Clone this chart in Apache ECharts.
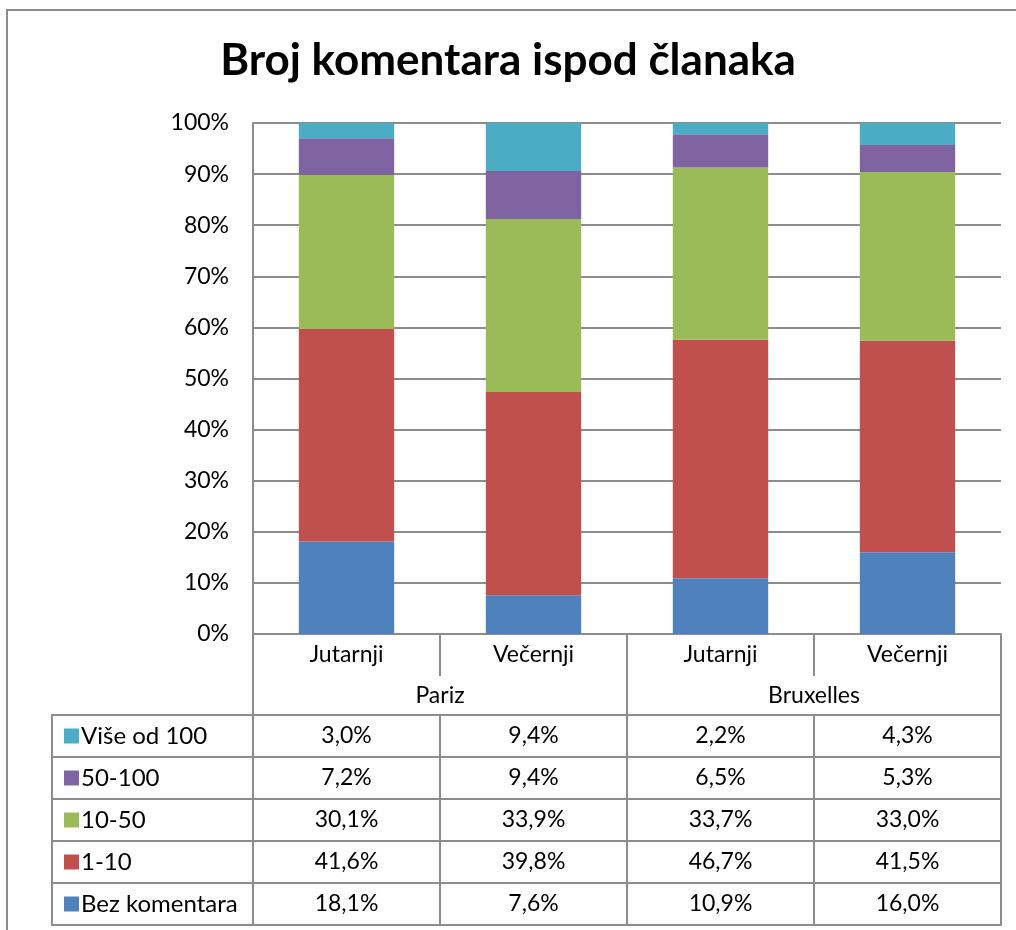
<!DOCTYPE html>
<html>
<head>
<meta charset="utf-8">
<title>Broj komentara ispod članaka</title>
<script src="https://cdn.jsdelivr.net/npm/echarts@6/dist/echarts.min.js"></script>
<style>
  html, body { margin: 0; padding: 0; background: #fff; }
  #main { width: 1016px; height: 930px; }
</style>
</head>
<body>
<div id="main"></div>
<script>
// podaci
var categories = ['Jutarnji', 'Večernji', 'Jutarnji', 'Večernji'];
var groups = ['Pariz', 'Bruxelles'];
var seriesNames = ['Bez komentara', '1-10', '10-50', '50-100', 'Više od 100'];
var bezKomentara = [18.1, 7.6, 10.9, 16.0];
var od1do10 = [41.6, 39.8, 46.7, 41.5];
var od10do50 = [30.1, 33.9, 33.7, 33.0];
var od50do100 = [7.2, 9.4, 6.5, 5.3];
var viseOd100 = [3.0, 9.4, 2.2, 4.3];
var yTicks = [0, 10, 20, 30, 40, 50, 60, 70, 80, 90, 100];

var colors = ['#4F81BD', '#C0504D', '#9BBB59', '#8064A2', '#4BACC6'];
var lineColor = '#8c8c8c';
var font = 'Lato, "Open Sans", sans-serif';

var values = [bezKomentara, od1do10, od10do50, od50do100, viseOd100];

// 100% stacked: normalize each column
var totals = categories.map(function (c, i) {
  return values.reduce(function (s, arr) { return s + arr[i]; }, 0);
});

function fmt(v) {
  return v.toFixed(1).replace('.', ',') + '%';
}

var gridLeft = 253, gridRight = 15, gridTop = 123, gridBottom = 296;
var rowH = 42;
var plotBottom = 930 - gridBottom;   // 634
var tableTop = plotBottom + 81;     // 715

// axes
var xAxes = [
  {
    type: 'category', data: categories, position: 'bottom', gridIndex: 0,
    axisLine: { show: true, lineStyle: { color: lineColor, width: 2 } },
    axisTick: { show: true, interval: 0, length: 42, lineStyle: { color: lineColor, width: 2 } },
    axisLabel: { interval: 0, color: '#000', fontFamily: font, fontSize: 23, margin: 9 }
  },
  {
    type: 'category', data: groups, position: 'bottom', offset: 42,
    axisLine: { show: false },
    axisTick: { show: true, interval: 0, length: 39, lineStyle: { color: lineColor, width: 2 } },
    axisLabel: { interval: 0, color: '#000', fontFamily: font, fontSize: 23, margin: 8 }
  }
];

// data table rows (top row = last series)
var tableOrder = [4, 3, 2, 1, 0];
tableOrder.forEach(function (si, r) {
  xAxes.push({
    type: 'category', data: values[si].map(fmt), position: 'bottom', offset: 81 + r * rowH,
    axisLine: { show: true, lineStyle: { color: lineColor, width: 2 } },
    axisTick: { show: true, interval: 0, length: rowH, lineStyle: { color: lineColor, width: 2 } },
    axisLabel: { interval: 0, color: '#000', fontFamily: font, fontSize: 23, margin: 9 }
  });
});
// bottom border of table
xAxes.push({
  type: 'category', data: categories, position: 'bottom', offset: 81 + 5 * rowH,
  axisLine: { show: true, lineStyle: { color: lineColor, width: 2 } },
  axisTick: { show: false }, axisLabel: { show: false }
});

var series = seriesNames.map(function (name, si) {
  return {
    name: name,
    type: 'bar',
    stack: 'total',
    barCategoryGap: '49%',
    itemStyle: { color: colors[si] },
    data: values[si].map(function (v, i) { return v / totals[i] * 100; })
  };
});

// legend keys, one per table row
var legends = tableOrder.map(function (si, r) {
  return {
    orient: 'vertical',
    left: 59,
    top: tableTop + r * rowH + 4,
    itemWidth: 15,
    itemHeight: 15,
    icon: 'rect',
    selectedMode: false,
    data: [seriesNames[si]],
    textStyle: { fontFamily: font, fontSize: 24, color: '#000', padding: [0, 0, 0, -3] }
  };
});

// legend column borders
var legendLeft = 52;
var graphics = [
  {
    type: 'rect', silent: true,
    shape: { x: 7, y: 10, width: 1100, height: 1000 },
    style: { fill: 'none', stroke: lineColor, lineWidth: 2 }
  },
  {
    type: 'rect', silent: true,
    shape: { x: legendLeft, y: tableTop, width: gridLeft - legendLeft, height: 5 * rowH },
    style: { fill: 'none', stroke: lineColor, lineWidth: 2 }
  }
];
for (var r = 1; r < 5; r++) {
  graphics.push({
    type: 'line', silent: true,
    shape: { x1: legendLeft, y1: tableTop + r * rowH, x2: gridLeft, y2: tableTop + r * rowH },
    style: { stroke: lineColor, lineWidth: 2 }
  });
}

var myChart = echarts.init(document.getElementById('main'));
myChart.setOption({
  animation: false,
  color: colors,
  title: {
    text: 'Broj komentara ispod članaka',
    left: 'center',
    top: 34,
    textStyle: { fontFamily: font, fontWeight: 'bold', fontSize: 44, color: '#000' }
  },
  legend: legends,
  grid: { left: gridLeft, right: gridRight, top: gridTop, bottom: gridBottom, containLabel: false },
  xAxis: xAxes,
  yAxis: {
    type: 'value',
    min: yTicks[0],
    max: yTicks[yTicks.length - 1],
    interval: 10,
    axisLine: { show: true, lineStyle: { color: lineColor, width: 2 } },
    axisTick: { show: false },
    splitLine: { lineStyle: { color: lineColor, width: 2 } },
    axisLabel: { formatter: '{value}%', color: '#000', fontFamily: font, fontSize: 23, margin: 24 }
  },
  series: series,
  graphic: graphics
});
</script>
</body>
</html>
